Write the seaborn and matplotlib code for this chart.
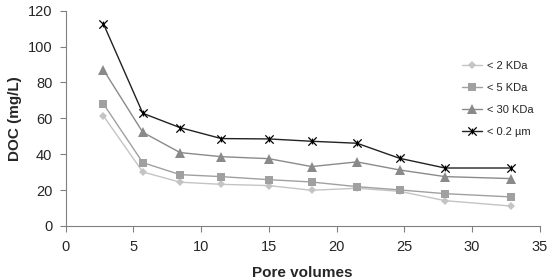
import pandas as pd
import seaborn as sns
import matplotlib.pyplot as plt
from matplotlib.path import Path

# Data
pore_volumes = [2.8, 5.7, 8.45, 11.5, 15.0, 18.15, 21.5, 24.65, 28.0, 32.85]
doc_2kda = [61.3, 30.1, 24.4, 23.2, 22.5, 19.9, 21.0, 19.3, 14.1, 11.1]
doc_5kda = [68.0, 35.3, 28.6, 27.5, 25.8, 24.5, 21.9, 20.1, 18.0, 16.2]
doc_30kda = [87.0, 52.2, 40.9, 38.6, 37.5, 33.1, 35.7, 31.2, 27.5, 26.4]
doc_02um = [112.6, 62.8, 54.8, 48.7, 48.5, 47.2, 46.1, 37.7, 32.3, 32.3]
series_names = ['< 2 KDa', '< 5 KDa', '< 30 KDa', '< 0.2 \u00b5m']

frames = []
for name, vals in zip(series_names, [doc_2kda, doc_5kda, doc_30kda, doc_02um]):
    frames.append(pd.DataFrame({'pv': pore_volumes, 'doc': vals, 'fraction': name}))
df = pd.concat(frames, ignore_index=True)

sns.set_style('white')
plt.rcParams['font.family'] = ['Liberation Sans', 'DejaVu Sans']

# excel-like star marker: an x with a short vertical stroke
star = Path([(-1, -1), (1, 1), (-1, 1), (1, -1), (0, -0.7), (0, 0.7)],
            [Path.MOVETO, Path.LINETO, Path.MOVETO, Path.LINETO, Path.MOVETO, Path.LINETO])

palette = {'< 2 KDa': '#c4c4c4', '< 5 KDa': '#a0a0a0',
           '< 30 KDa': '#8a8a8a', '< 0.2 \u00b5m': '#222222'}
markers = {'< 2 KDa': 'D', '< 5 KDa': 's', '< 30 KDa': '^', '< 0.2 \u00b5m': star}
sizes_m = {'< 2 KDa': 4, '< 5 KDa': 5.5, '< 30 KDa': 6.5, '< 0.2 \u00b5m': 6}

fig = plt.figure(figsize=(5.51, 2.8), dpi=100)
ax = fig.add_axes([0.1189, 0.193, 0.861, 0.769])

for name in series_names:
    sub = df[df['fraction'] == name]
    is_star = name.endswith('m')
    sns.lineplot(data=sub, x='pv', y='doc', ax=ax, color=palette[name],
                 marker=markers[name], markersize=sizes_m[name],
                 markeredgecolor='#000000' if is_star else palette[name],
                 markeredgewidth=0.9 if is_star else 0,
                 linewidth=1.0, label=name)

ax.set_xlim(0, 35)
ax.set_ylim(0, 120)
ax.set_xticks(range(0, 36, 5))
ax.set_yticks(range(0, 121, 20))
ax.tick_params(axis='both', labelsize=10.5, length=4, width=0.8, color='#808080',
               direction='out', left=True, bottom=True)
ax.tick_params(axis='x', pad=6)
ax.tick_params(axis='y', pad=5.5)
sns.despine(ax=ax)
for s in ['left', 'bottom']:
    ax.spines[s].set_color('#808080')
    ax.spines[s].set_linewidth(0.8)

ax.set_xlabel('Pore volumes', fontsize=11, fontweight='bold', labelpad=9)
ax.set_ylabel('DOC (mg/L)', fontsize=11, fontweight='bold', labelpad=4)

ax.legend(loc='upper left', bbox_to_anchor=(462 / 551, 1 - 61 / 280),
          bbox_transform=fig.transFigure, frameon=False, borderpad=0,
          borderaxespad=0, fontsize=8, handlelength=1.8, labelspacing=1.08,
          handletextpad=0.45)

fig.savefig('out.png', dpi=100)
